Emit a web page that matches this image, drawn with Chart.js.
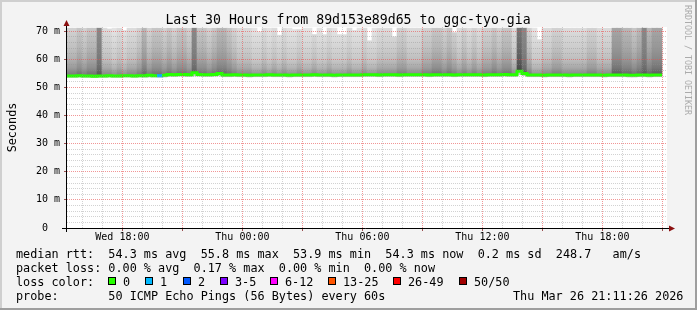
<!DOCTYPE html>
<html>
<head>
<meta charset="utf-8">
<script src="https://cdn.jsdelivr.net/npm/chart.js"></script>
<style>
html,body{margin:0;padding:0;background:#f3f3f3;}
canvas{display:block;}
</style>
</head>
<body>
<canvas id="c" width="697" height="310"></canvas>
<script>
// ---------- texts ----------
const titleText = 'Last 30 Hours from 89d153e89d65 to ggc-tyo-gia';
const yAxisTitle = 'Seconds';
const watermark = 'RRDTOOL / TOBI OETIKER';
const statLines = [
  'median rtt:  54.3 ms avg  55.8 ms max  53.9 ms min  54.3 ms now  0.2 ms sd  248.7   am/s',
  'packet loss: 0.00 % avg  0.17 % max  0.00 % min  0.00 % now',
  'loss color:',
  'probe:       50 ICMP Echo Pings (56 Bytes) every 60s'
];
const dateStamp = 'Thu Mar 26 21:11:26 2026';
const lossLabels = ['0', '1', '2', '3-5', '6-12', '13-25', '26-49', '50/50'];
const lossColors = ['#26ff00', '#00b8ff', '#0059ff', '#7e00ff', '#ff00ff', '#ff5500', '#ff0000', '#a10000'];
const lossUpper  = [0, 1, 2, 5, 12, 25, 49, 50];

// ---------- axes (hours since Wed 00:00) ----------
const axisStartHour = 15.23;
const axisEndHour = 45.23;
const sampleStartHour = 15.23;
const sampleStepHours = 0.25;
const xGridHours = [16,17,18,19,20,21,22,23,24,25,26,27,28,29,30,31,32,33,34,35,36,37,38,39,40,41,42,43,44,45];
const xMajorGridHours = [18,21,24,27,30,33,36,39,42,45];
const xTickHours = [18, 24, 30, 36, 42];
const xTickLabels = ['Wed 18:00', 'Thu 00:00', 'Thu 06:00', 'Thu 12:00', 'Thu 18:00'];
const yGridValues = [0,2,4,6,8,10,12,14,16,18,20,22,24,26,28,30,32,34,36,38,40,42,44,46,48,50,52,54,56,58,60,62,64,66,68,70];
const yTickValues = [0, 10, 20, 30, 40, 50, 60, 70];
const yTickLabels = ['0  ', '10 m', '20 m', '30 m', '40 m', '50 m', '60 m', '70 m'];
const yMax = 71.5;

// ---------- series (ms), one value per 15-minute column ----------
const median = [
  54.1,54.1,54.2,54.1,54.1,54.0,54.1,54.1,54.2,54.1,
  54.1,54.2,54.2,54.1,54.2,54.2,54.3,54.2,54.2,54.3,
  54.6,54.5,54.6,54.6,54.5,55.2,54.6,54.5,54.5,54.6,
  55.0,54.4,54.4,54.5,54.4,54.4,54.3,54.4,54.4,54.4,
  54.5,54.4,54.4,54.4,54.3,54.4,54.4,54.4,54.4,54.5,
  54.4,54.4,54.4,54.3,54.4,54.4,54.4,54.4,54.4,54.5,
  54.5,54.5,54.4,54.5,54.5,54.5,54.4,54.5,54.5,54.5,
  54.5,54.5,54.4,54.5,54.5,54.5,54.5,54.4,54.5,54.5,
  54.5,54.5,54.5,54.4,54.5,54.5,54.5,54.6,54.5,54.5,
  55.8,55.0,54.4,54.4,54.4,54.3,54.4,54.4,54.4,54.4,
  54.3,54.4,54.4,54.4,54.4,54.4,54.4,54.3,54.4,54.4,
  54.4,54.4,54.3,54.3,54.4,54.4,54.3,54.4,54.4
];
const minPing = [
  53.6,53.6,53.7,53.6,53.6,53.5,53.6,53.6,53.7,53.6,
  53.6,53.7,53.7,53.6,53.7,53.6,53.7,53.7,53.6,53.7,
  53.9,53.9,54.0,53.9,53.9,54.1,54.0,53.9,53.9,54.0,
  54.1,53.8,53.8,53.9,53.8,53.8,53.7,53.8,53.8,53.8,
  53.9,53.8,53.8,53.8,53.7,53.8,53.8,53.8,53.8,53.9,
  53.8,53.8,53.8,53.7,53.8,53.8,53.8,53.8,53.8,53.9,
  53.9,53.9,53.8,53.9,53.9,53.9,53.8,53.9,53.9,53.9,
  53.9,53.9,53.8,53.9,53.9,53.9,53.9,53.8,53.9,53.9,
  53.9,53.9,53.9,53.8,53.9,53.9,53.9,54.0,53.9,53.9,
  54.6,54.2,53.8,53.8,53.8,53.7,53.8,53.8,53.8,53.8,
  53.7,53.8,53.8,53.8,53.8,53.8,53.8,53.7,53.8,53.8,
  53.8,53.8,53.7,53.7,53.8,53.8,53.7,53.8,53.8
];
const lossPings = [
  0,0,0,0,0,0,0,0,0,0,
  0,0,0,0,0,0,0,0,1,0,
  0,0,0,0,0,0,0,0,0,0,
  0,0,0,0,0,0,0,0,0,0,
  0,0,0,0,0,0,0,0,0,0,
  0,0,0,0,0,0,0,0,0,0,
  0,0,0,0,0,0,0,0,0,0,
  0,0,0,0,0,0,0,0,0,0,
  0,0,0,0,0,0,0,0,0,0,
  0,0,0,0,0,0,0,0,0,0,
  0,0,0,0,0,0,0,0,0,0,
  0,0,0,0,0,0,0,0,0
];
// smoke density per column (1 = sparse/light ... 9 = dense/dark)
const darkness = [
  4,4,5,4,5,5,8,3,3,2,
  3,2,3,3,4,6,4,5,5,4,
  5,4,5,5,4,8,5,5,4,5,
  6,6,5,4,3,3,3,2,2,3,
  2,3,2,3,2,2,3,2,2,3,
  2,2,3,2,2,2,3,2,2,3,
  2,2,3,3,3,3,4,4,3,3,
  3,4,4,5,5,4,5,4,3,4,
  3,4,3,4,4,5,4,5,5,3,
  9,8,4,2,2,3,3,4,4,3,
  3,3,3,3,4,4,3,3,3,7,
  7,6,6,5,6,8,6,7,7
];
// highest ping per column (ms, 71.1 = beyond the top of the graph)
const smokeTop = [
  71.1,71.1,71.1,71.1,71.1,71.1,71.1,71.1,70.8,71.1,
  71.1,70.3,71.1,71.1,71.1,71.1,71.1,71.1,71.1,71.1,
  71.1,71.1,71.1,71.1,71.1,71.1,71.1,71.1,71.1,71.1,
  71.1,71.1,71.1,71.1,71.1,71.1,71.1,71.1,69.8,71.1,
  71.1,71.1,68.6,71.1,71.1,70.6,70.6,71.1,71.1,68.8,
  71.1,68.8,71.1,71.1,68.8,68.8,71.1,70.3,71.1,71.1,
  66.6,71.1,71.1,71.1,71.1,68.0,71.1,71.1,71.1,71.1,
  71.1,71.1,71.1,71.1,71.1,71.1,71.1,69.5,71.1,71.1,
  71.1,71.1,71.1,71.1,71.1,71.1,71.1,71.1,71.1,71.1,
  71.1,71.1,71.1,71.1,67.0,71.1,71.1,71.1,71.1,71.1,
  71.1,71.1,71.1,71.1,71.1,71.1,71.1,71.1,71.1,71.1,
  71.1,71.1,71.1,71.1,71.1,71.1,71.1,71.1,71.1
];

// ---------- styles ----------
// shade of the smoke (gray level) at a few heights (ms) for each density class
const smokeGradient = {
  1: [[55,160],[56,185],[58,205],[62,218],[67,228],[71,234]],
  2: [[55,150],[57,180],[60,200],[65,214],[71,228]],
  3: [[55,140],[57,168],[60,190],[64,204],[71,220]],
  4: [[55,128],[57,155],[60,175],[64,192],[71,210]],
  5: [[55,118],[57,142],[60,162],[64,180],[71,198]],
  6: [[55,108],[57,130],[60,150],[64,166],[71,184]],
  7: [[55,96],[57,118],[60,136],[64,150],[71,166]],
  8: [[55,92],[57,108],[60,120],[64,128],[71,136]],
  9: [[55,56],[57,76],[60,92],[64,104],[71,118]]
};
const MONO = '"DejaVu Sans Mono", monospace';
const gridMinor = 'rgba(143,143,143,0.40)';
const gridMajor = 'rgba(232,80,80,0.60)';

// ---------- build datasets ----------
const colCenter = median.map((_, i) => sampleStartHour + sampleStepHours * (i + 0.5));
const colLeft = median.map((_, i) => sampleStartHour + sampleStepHours * i);

function lossColor(n) {
  for (let k = 0; k < lossUpper.length; k++) if (n <= lossUpper[k]) return lossColors[k];
  return lossColors[lossColors.length - 1];
}
function smokeFill(c) {
  if (c.type !== 'data') return '#c8c8c8';
  const ys = c.chart.scales && c.chart.scales.y;
  if (!ys) return '#c8c8c8';
  const prof = smokeGradient[darkness[c.dataIndex]];
  const h0 = prof[0][0], h1 = prof[prof.length - 1][0];
  const p0 = ys.getPixelForValue(h0), p1 = ys.getPixelForValue(h1);
  if (!isFinite(p0) || !isFinite(p1) || p0 === p1) return '#c8c8c8';
  const g = c.chart.ctx.createLinearGradient(0, p0, 0, p1);
  prof.forEach(([ms, v]) => g.addColorStop((ms - h0) / (h1 - h0), 'rgb(' + v + ',' + v + ',' + v + ')'));
  return g;
}

const datasets = [
  {
    type: 'bar', label: 'low', order: 2, grouped: false,
    data: median.map((m, i) => ({ x: colCenter[i], y: [minPing[i], m] })),
    backgroundColor: '#c4c4c4', borderWidth: 0,
    categoryPercentage: 1, barPercentage: 1
  },
  {
    type: 'bar', label: 'smoke', order: 1, grouped: false,
    data: median.map((m, i) => ({ x: colCenter[i], y: [m, smokeTop[i]] })),
    backgroundColor: smokeFill, borderWidth: 0,
    categoryPercentage: 1, barPercentage: 1
  }
];
const medianPts = median.map((m, i) => ({ x: colLeft[i], y: m }));
medianPts.push({ x: sampleStartHour + sampleStepHours * median.length, y: median[median.length - 1] });
datasets.push({
  type: 'line', label: 'median', order: 0,
  data: medianPts, stepped: true, borderWidth: 3, pointRadius: 0,
  borderColor: lossColors[0],
  segment: { borderColor: ctx => lossColor(lossPings[ctx.p0DataIndex]) }
});

const frame = {
  id: 'frame',
  beforeDraw(chart) {
    const { ctx, chartArea: a } = chart;
    ctx.save();
    ctx.fillStyle = '#f3f3f3'; ctx.fillRect(0, 0, 697, 310);
    ctx.fillStyle = '#cfcfcf'; ctx.fillRect(0, 0, 697, 2); ctx.fillRect(0, 0, 2, 310);
    ctx.fillStyle = '#9e9e9e'; ctx.fillRect(695, 0, 2, 310); ctx.fillRect(0, 308, 697, 2);
    ctx.fillStyle = '#ffffff'; ctx.fillRect(a.left, a.top, a.right - a.left, a.bottom - a.top);
    ctx.restore();
  },
  afterDraw(chart) {
    const { ctx, chartArea: a } = chart;
    ctx.save();
    // axes
    ctx.strokeStyle = '#000'; ctx.lineWidth = 1;
    ctx.beginPath();
    ctx.moveTo(a.left - 0.5, a.bottom + 4); ctx.lineTo(a.left - 0.5, a.top - 1);
    ctx.moveTo(a.left - 5, a.bottom + 0.5); ctx.lineTo(a.right + 2, a.bottom + 0.5);
    ctx.stroke();
    ctx.fillStyle = '#8b1010';
    ctx.beginPath();
    ctx.moveTo(a.left - 0.5, a.top - 7); ctx.lineTo(a.left - 3.5, a.top - 1); ctx.lineTo(a.left + 2.5, a.top - 1); ctx.closePath();
    ctx.fill();
    ctx.beginPath();
    ctx.moveTo(a.right + 8, a.bottom + 0.5); ctx.lineTo(a.right + 2, a.bottom - 2.5); ctx.lineTo(a.right + 2, a.bottom + 3.5); ctx.closePath();
    ctx.fill();
    // title
    ctx.fillStyle = '#000';
    ctx.font = '13.2px ' + MONO;
    ctx.textAlign = 'center'; ctx.textBaseline = 'alphabetic';
    ctx.fillText(titleText, 348, 24);
    // y axis title
    ctx.save();
    ctx.font = '11.8px ' + MONO;
    ctx.translate(16, (a.top + a.bottom) / 2);
    ctx.rotate(-Math.PI / 2);
    ctx.textAlign = 'center';
    ctx.fillText(yAxisTitle, 0, 0);
    ctx.restore();
    // watermark
    ctx.save();
    ctx.fillStyle = '#ababab';
    ctx.font = '8.3px ' + MONO;
    ctx.translate(685, 5);
    ctx.rotate(Math.PI / 2);
    ctx.textAlign = 'left';
    ctx.fillText(watermark, 0, 0);
    ctx.restore();
    // legend lines
    ctx.font = '11.8px ' + MONO;
    ctx.textAlign = 'left';
    ctx.fillStyle = '#000';
    const base = [258, 272, 286, 300];
    statLines.forEach((t, i) => ctx.fillText(t, 16, base[i]));
    ctx.fillText(dateStamp, 513, base[3]);
    const boxX = [108, 145, 183, 220, 270, 328, 393, 459];
    lossLabels.forEach((lab, i) => {
      ctx.fillStyle = lossColors[i];
      ctx.fillRect(boxX[i], 277, 8, 8);
      ctx.strokeStyle = '#000';
      ctx.strokeRect(boxX[i] + 0.5, 277.5, 7, 7);
      ctx.fillStyle = '#000';
      ctx.fillText(lab, boxX[i] + 15, base[2]);
    });
    ctx.restore();
  }
};

const chart = new Chart(document.getElementById('c'), {
  type: 'bar',
  data: { datasets },
  plugins: [frame],
  options: {
    responsive: false,
    animation: false,
    devicePixelRatio: 1,
    layout: { padding: { left: 0, right: 30, top: 27, bottom: 62 } },
    plugins: { legend: { display: false }, title: { display: false }, tooltip: { enabled: false } },
    scales: {
      x: {
        type: 'linear', min: axisStartHour, max: axisEndHour, offset: false,
        afterBuildTicks: s => { s.ticks = xGridHours.map(v => ({ value: v })); },
        afterFit: s => { s.height = 20; },
        ticks: {
          autoSkip: false, maxRotation: 0, padding: 0, color: '#000',
          font: { family: MONO, size: 10 },
          callback: v => { const i = xTickHours.indexOf(v); return i >= 0 ? xTickLabels[i] : ''; }
        },
        grid: {
          z: 1, offset: false, lineWidth: 1, drawTicks: true, tickLength: 3,
          color: c => xMajorGridHours.includes(c.tick && c.tick.value) ? gridMajor : gridMinor,
          tickColor: c => xMajorGridHours.includes(c.tick && c.tick.value) ? '#9a5050' : 'rgba(0,0,0,0)'
        },
        border: { display: false, dash: [1, 1] }
      },
      y: {
        type: 'linear', min: 0, max: yMax,
        afterBuildTicks: s => { s.ticks = yGridValues.map(v => ({ value: v })); },
        afterFit: s => { s.width = 67; },
        ticks: {
          autoSkip: false, padding: 4, color: '#000',
          font: { family: MONO, size: 10 },
          callback: v => { const i = yTickValues.indexOf(v); return i >= 0 ? yTickLabels[i] : ''; }
        },
        grid: {
          z: 1, lineWidth: 1, drawTicks: true, tickLength: 3,
          color: c => yTickValues.includes(c.tick && c.tick.value) ? gridMajor : gridMinor,
          tickColor: c => yTickValues.includes(c.tick && c.tick.value) ? '#9a5050' : 'rgba(0,0,0,0)'
        },
        border: { display: false, dash: [1, 1] }
      }
    }
  }
});
chart.update('none');
</script>
</body>
</html>
